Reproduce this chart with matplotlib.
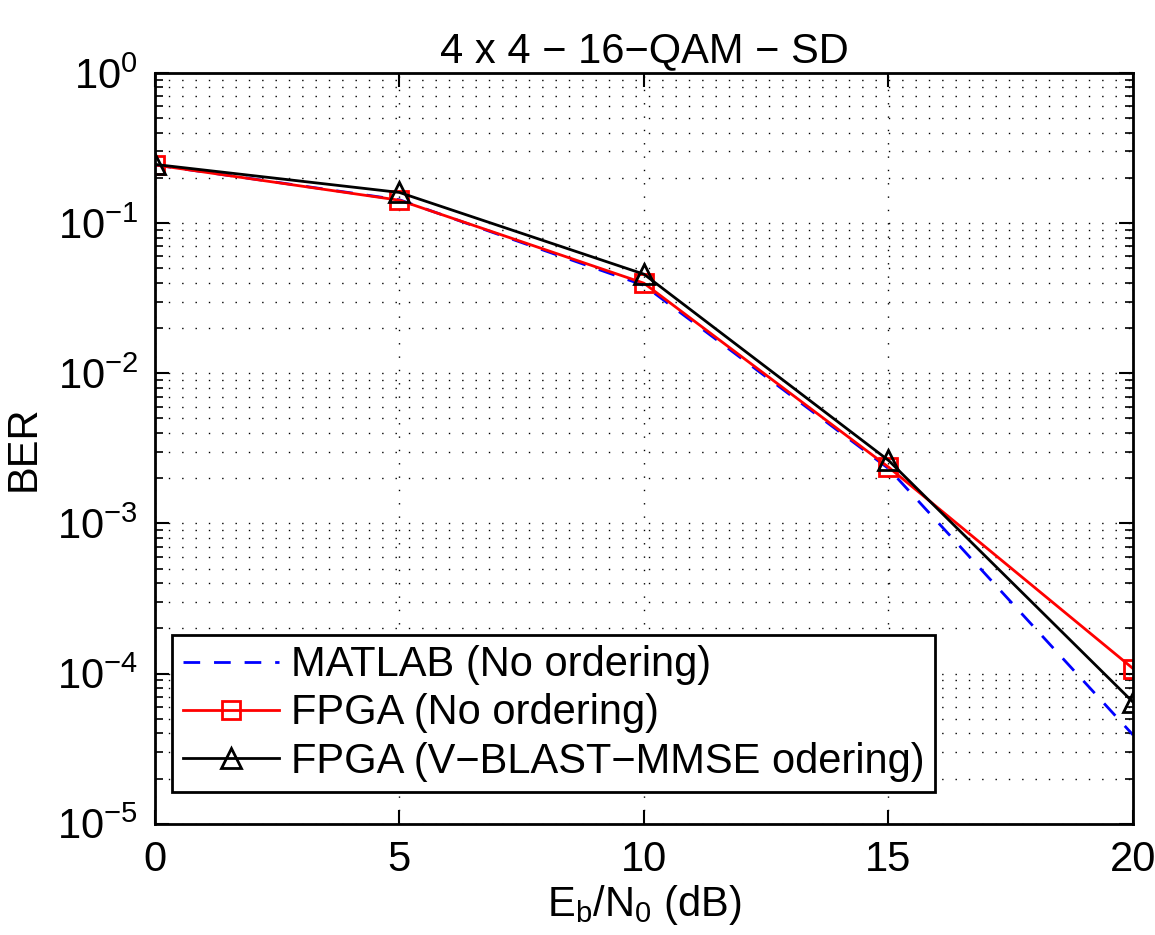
import matplotlib
matplotlib.use('Agg')
import matplotlib.pyplot as plt
from matplotlib.ticker import LogLocator, NullFormatter

plt.rcParams['font.family'] = ['Liberation Sans', 'DejaVu Sans']
plt.rcParams['mathtext.fontset'] = 'custom'
plt.rcParams['mathtext.rm'] = 'Liberation Sans'
plt.rcParams['mathtext.it'] = 'Liberation Sans'
plt.rcParams['mathtext.default'] = 'regular'

snr = [0, 5, 10, 15, 20]
ber_matlab = [0.244, 0.143, 0.0385, 0.00232, 3.9e-5]
ber_fpga = [0.244, 0.142, 0.0398, 0.00237, 1.08e-4]
ber_vblast = [0.246, 0.160, 0.0457, 0.00263, 6.45e-5]
labels = ['MATLAB (No ordering)', 'FPGA (No ordering)', 'FPGA (V\u2212BLAST\u2212MMSE odering)']

def main():
    fig = plt.figure(figsize=(11.55, 9.35), dpi=100)
    ax = fig.add_axes([0.134, 0.119, 0.847, 0.803])

    ax.semilogy(snr, ber_matlab, '--', color='blue', lw=2, dashes=(6, 5), label=labels[0])
    ax.semilogy(snr, ber_fpga, '-s', color='red', lw=2, ms=13, mfc='none', mew=2, label=labels[1])
    ax.semilogy(snr, ber_vblast, '-^', color='black', lw=2, ms=15, mfc='none', mew=2, label=labels[2])

    ax.set_xlim(0, 20)
    ax.set_ylim(1e-5, 1)
    ax.set_xticks([0, 5, 10, 15, 20])
    ax.yaxis.set_minor_locator(LogLocator(base=10, subs=range(2, 10), numticks=20))
    ax.yaxis.set_minor_formatter(NullFormatter())

    dots = (0, (1, 8.6))
    ax.grid(True, which='major', axis='both', linestyle=dots, color='black', lw=1)
    ax.grid(True, which='minor', axis='y', linestyle=dots, color='black', lw=1)

    ax.tick_params(which='both', direction='in', top=True, right=True, labelsize=30)
    ax.tick_params(which='major', length=10, width=1.5, pad=12)
    ax.tick_params(which='minor', length=6, width=1.2)
    for s in ax.spines.values():
        s.set_linewidth(2)

    ax.set_title('4 x 4 \u2212 16\u2212QAM \u2212 SD', fontsize=30, pad=8)
    ax.set_xlabel('E$_b$/N$_0$ (dB)', fontsize=30, labelpad=2)
    ax.set_ylabel('BER', fontsize=30, labelpad=10)

    leg = ax.legend(loc='lower left', bbox_to_anchor=(0.018, 0.042), fontsize=30,
                    fancybox=False, framealpha=1, edgecolor='black',
                    handlelength=2.3, handletextpad=0.3, borderpad=0.25,
                    labelspacing=0.2, borderaxespad=0)
    leg.get_frame().set_linewidth(2)

    fig.savefig('out.png', dpi=100)

if __name__ == '__main__':
    main()
